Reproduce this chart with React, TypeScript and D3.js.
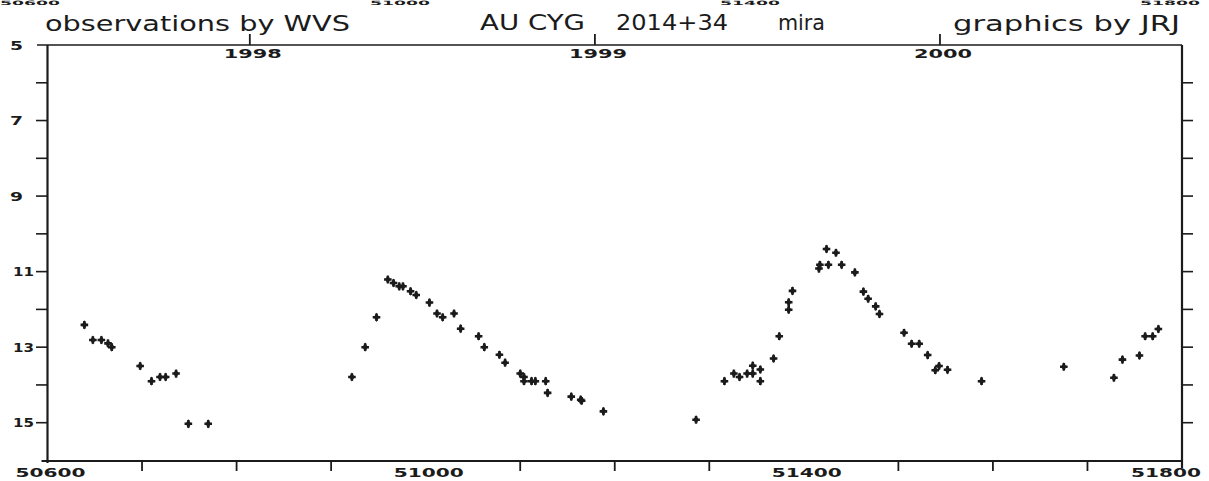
import React from "react";
import * as d3 from "d3";

// Observations: Modified Julian Date and visual magnitude
const OBS_MJD = [
  50639, 50648, 50657, 50664, 50668, 50698, 50710, 50719, 50725, 50736, 50749, 50770,
  50922, 50936, 50948, 50960, 50966, 50972, 50976, 50984, 50990, 51004, 51012, 51018,
  51030, 51037, 51056, 51062, 51078, 51084, 51100, 51104, 51104, 51112, 51116, 51127,
  51129, 51154, 51164, 51165, 51188,
  51286, 51316, 51326, 51332, 51340, 51346, 51346, 51354, 51354, 51368, 51374, 51384,
  51384, 51388, 51416, 51417, 51426, 51424, 51434, 51440, 51454, 51463, 51468, 51476,
  51480, 51506, 51514, 51522, 51531, 51539, 51543, 51552, 51588,
  51675, 51728, 51737, 51755, 51761, 51769, 51775,
];
const OBS_MAG = [
  12.41, 12.81, 12.81, 12.9, 13.0, 13.5, 13.9, 13.79, 13.79, 13.7, 15.03, 15.03,
  13.79, 13.0, 12.21, 11.21, 11.3, 11.39, 11.39, 11.52, 11.62, 11.82, 12.11, 12.21,
  12.11, 12.51, 12.71, 13.0, 13.2, 13.41, 13.7, 13.79, 13.9, 13.9, 13.9, 13.9,
  14.21, 14.31, 14.39, 14.42, 14.7,
  14.92, 13.9, 13.7, 13.79, 13.7, 13.7, 13.49, 13.59, 13.9, 13.3, 12.71, 12.01,
  11.81, 11.51, 10.92, 10.82, 10.82, 10.4, 10.5, 10.82, 11.02, 11.53, 11.72, 11.92,
  12.12, 12.62, 12.91, 12.91, 13.21, 13.61, 13.5, 13.6, 13.9,
  13.52, 13.81, 13.33, 13.22, 12.71, 12.71, 12.52,
];

// Axes
const MAG_DOMAIN = [5, 16];
const MAG_TICKS = [6, 7, 8, 9, 10, 11, 12, 13, 14, 15];
const MAG_LABELS = [5, 7, 9, 11, 13, 15];
const MJD_DOMAIN = [50600, 51800];
const MJD_TICKS = [50700, 50800, 50900, 51100, 51200, 51300, 51500, 51600, 51700];
const MJD_LABELS = [50600, 51000, 51400, 51800];
const YEAR_LABELS = ["1998", "1999", "2000"];
const YEAR_MJD = [50814, 51179, 51544];
const TOP_CUT_LABELS = ["50600", "51000", "51400", "51800"];

const W = 1209;
const H = 481;
const L = 47.5, R = 1182, T = 45, B = 461;

const INK = "#1b1b1b";
const TITLE_FONT = "'DejaVu Sans', sans-serif";
const NUM_FONT = "'DejaVu Sans', sans-serif";

export default function App() {
  const x = d3.scaleLinear().domain(MJD_DOMAIN).range([L, R]);
  const y = d3.scaleLinear().domain(MAG_DOMAIN).range([T, T + 11 * 37.77]);
  const cross = d3.symbol(d3.symbolCross, 32)() as string;
  const diamond = d3.symbol(d3.symbolDiamond, 24)() as string;

  const labelLen = (s: string) => s.length * 14;

  return (
    <svg
      width={W}
      height={H}
      viewBox={`0 0 ${W} ${H}`}
      style={{ position: "absolute", left: 0, top: 0, background: "#fff" }}
    >
      <rect x={0} y={0} width={W} height={H} fill="#fff" />

      {/* partially visible labels at the very top edge */}
      {TOP_CUT_LABELS.map((s, i) => (
        <text
          key={s}
          x={[30, 400, 750, 1170][i]}
          y={5}
          textAnchor="middle"
          fontFamily={NUM_FONT}
          fontWeight="bold"
          fontSize={6}
          textLength={60}
          lengthAdjust="spacingAndGlyphs"
          fill={INK}
        >
          {s}
        </text>
      ))}

      {/* titles */}
      <g fontFamily={TITLE_FONT} fontSize={21} fill={INK}>
        <text x={45} y={31} textLength={305} lengthAdjust="spacingAndGlyphs">
          observations by WVS
        </text>
        <text x={480} y={30} textLength={105} lengthAdjust="spacingAndGlyphs">
          AU CYG
        </text>
        <text x={616} y={30} textLength={112} lengthAdjust="spacingAndGlyphs">
          2014+34
        </text>
        <text x={778} y={30} textLength={47} lengthAdjust="spacingAndGlyphs">
          mira
        </text>
        <text x={953} y={31} textLength={227} lengthAdjust="spacingAndGlyphs">
          graphics by JRJ
        </text>
      </g>

      {/* frame */}
      <line x1={37} x2={R} y1={T} y2={T} stroke={INK} strokeWidth={1.6} />
      <line x1={L} x2={L} y1={T} y2={B + 2} stroke={INK} strokeWidth={2.2} />
      <line x1={R} x2={R} y1={T} y2={B + 7} stroke={INK} strokeWidth={2.2} />
      <line x1={L - 6} x2={R} y1={B} y2={B} stroke={INK} strokeWidth={2} />

      {/* left & right magnitude ticks */}
      {MAG_TICKS.map((m) => (
        <g key={m}>
          <line x1={36} x2={L} y1={y(m)} y2={y(m)} stroke={INK} strokeWidth={1.6} />
          <line x1={R} x2={R + 11} y1={y(m)} y2={y(m)} stroke={INK} strokeWidth={1.6} />
        </g>
      ))}
      {MAG_LABELS.map((m) => {
        const s = String(m);
        return (
          <text
            key={m}
            x={s.length === 1 ? 10 : 13}
            y={y(m) + 4.5}
            fontFamily={NUM_FONT}
            fontWeight="bold"
            fontSize={12.5}
            textLength={s.length === 1 ? 13 : 21}
            lengthAdjust="spacingAndGlyphs"
            fill={INK}
          >
            {s}
          </text>
        );
      })}

      {/* bottom ticks */}
      {MJD_TICKS.map((d) => (
        <line key={d} x1={x(d)} x2={x(d)} y1={B} y2={B + 10} stroke={INK} strokeWidth={1.8} />
      ))}
      {MJD_LABELS.map((d, i) => {
        const s = String(d);
        const last = i === MJD_LABELS.length - 1;
        return (
          <text
            key={d}
            x={last ? 1201 : x(d) + 3}
            y={477}
            textAnchor={last ? "end" : "middle"}
            fontFamily={NUM_FONT}
            fontWeight="bold"
            fontSize={13}
            textLength={labelLen(s)}
            lengthAdjust="spacingAndGlyphs"
            fill={INK}
          >
            {s}
          </text>
        );
      })}

      {/* top year ticks */}
      {YEAR_MJD.map((d, i) => (
        <g key={d}>
          <line x1={x(d)} x2={x(d)} y1={T} y2={T - 11} stroke={INK} strokeWidth={1.8} />
          <text
            x={x(d) + 3}
            y={57.5}
            textAnchor="middle"
            fontFamily={NUM_FONT}
            fontWeight="bold"
            fontSize={12}
            textLength={58}
            lengthAdjust="spacingAndGlyphs"
            fill={INK}
          >
            {YEAR_LABELS[i]}
          </text>
        </g>
      ))}

      {/* observations */}
      {OBS_MJD.map((d, i) => (
        <g key={i} transform={`translate(${x(d)},${y(OBS_MAG[i])})`} fill={INK}>
          <path d={cross} />
          <path d={diamond} />
        </g>
      ))}
    </svg>
  );
}
